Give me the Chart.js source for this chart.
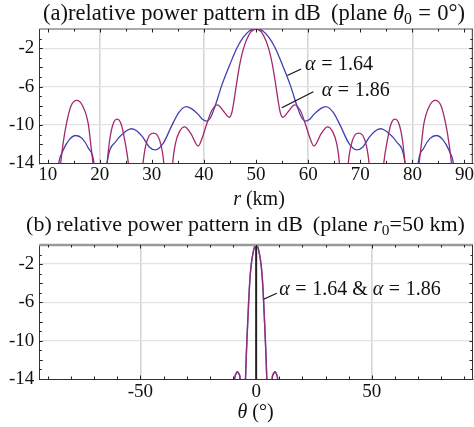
<!DOCTYPE html>
<html><head><meta charset="utf-8">
<script src="https://cdn.jsdelivr.net/npm/chart.js@4.4.0/dist/chart.umd.min.js"></script>
<style>
html,body{margin:0;padding:0;background:#fff;width:474px;height:427px;overflow:hidden}
#wa{position:absolute;left:0;top:0;width:474px;height:213px}
#wb{position:absolute;left:0;top:213px;width:474px;height:214px}
</style></head><body>
<div id="wa"><canvas id="ca"></canvas></div>
<div id="wb"><canvas id="cb"></canvas></div>
<script>
// ---------- data ----------
// (a) pattern vs range r (km), alpha = 1.64
const rAlpha164 = [10.2,12.1,13.0,14.2,15.4,16.6,17.8,18.9,20.1,21.4,23.2,24.5,25.3,26.1,27.2,28.3,29.5,30.7,32.2,33.8,35.2,36.6,37.6,38.9,39.7,40.5,41.3,42.1,43.4,44.9,46.3,47.5,48.7,50.0,51.3,52.5,53.7,55.1,56.6,57.9,58.7,59.5,60.3,61.1,62.4,63.4,64.8,66.2,67.8,69.3,70.5,71.7,72.8,73.9,74.7,75.5,76.8,78.6,79.9,81.1,82.2,83.4,84.6,85.8,87.0,87.9,89.8];
const dbAlpha164 = [-22,-14,-12.6,-11.5,-11.1,-11.4,-12.4,-14,-22,-14,-11.65,-10.9,-10.55,-10.4,-10.65,-11.3,-12.3,-12.6,-11.9,-10.1,-8.7,-8.1,-8.3,-8.9,-9.4,-9.6,-9.2,-8.1,-5.9,-3.8,-2.0,-0.9,-0.2,0,-0.2,-0.9,-2.0,-3.8,-5.9,-8.1,-9.2,-9.6,-9.4,-8.9,-8.3,-8.1,-8.7,-10.1,-11.9,-12.6,-12.3,-11.3,-10.65,-10.4,-10.55,-10.9,-11.65,-14,-22,-14,-12.4,-11.4,-11.1,-11.5,-12.6,-14,-22];
// (a) pattern vs range r (km), alpha = 1.86
const rAlpha186 = [11.2,12.5,12.95,13.6,14.5,15.6,16.7,17.8,18.27,18.7,19.9,21.4,21.9,22.5,23.3,24.1,24.8,25.5,26.9,28.3,28.8,29.5,30.3,31.1,31.8,32.3,33.15,34.0,34.5,35.3,36.3,37.5,38.9,39.7,40.6,41.5,42.6,43.8,44.9,45.4,45.9,46.4,46.9,47.5,48.2,49.0,50.0,51.0,51.8,52.5,53.1,53.6,54.1,54.6,55.1,56.2,57.4,58.5,59.4,60.3,61.1,62.5,63.7,64.7,65.5,66.0,66.85,67.7,68.2,68.9,69.7,70.5,71.2,71.7,73.1,74.5,75.2,75.9,76.7,77.5,78.1,78.6,80.1,81.3,81.73,82.2,83.3,84.4,85.5,86.4,87.05,87.5,88.8];
const dbAlpha186 = [-22,-14,-12.0,-9.9,-8.0,-7.44,-8.0,-9.9,-12.0,-14,-22,-14,-11.6,-10.0,-9.4,-9.9,-11.6,-14,-22,-14,-12.2,-11.1,-10.85,-11.1,-12.2,-14,-22,-14,-12.0,-10.7,-10.2,-10.9,-12.2,-11.3,-9.8,-8.5,-7.9,-8.6,-9.2,-8.6,-7.0,-5.2,-3.6,-2.2,-1.1,-0.3,0,-0.3,-1.1,-2.2,-3.6,-5.2,-7.0,-8.6,-9.2,-8.6,-7.9,-8.5,-9.8,-11.3,-12.2,-10.9,-10.2,-10.7,-12.0,-14,-22,-14,-12.2,-11.1,-10.85,-11.1,-12.2,-14,-22,-14,-11.6,-9.9,-9.4,-10.0,-11.6,-14,-22,-14,-12.0,-9.9,-8.0,-7.44,-8.0,-9.9,-12.0,-14,-22];
// (b) pattern vs angle theta (deg), both alphas coincide
const thetaDeg   = [-11.5,-9.3,-8.7,-8.1,-7.5,-6.9,-5.6,-4.6,-4.2,-3.8,-3.25,-2.7,-2.1,-1.4,-0.7,0,0.7,1.4,2.1,2.7,3.25,3.8,4.2,4.6,5.6,6.9,7.5,8.1,8.7,9.3,11.5];
const dbTheta164 = [-24,-14,-13.45,-13.25,-13.45,-14,-24,-14,-11.2,-8.9,-6.0,-3.6,-2.0,-0.9,-0.22,0,-0.22,-0.9,-2.0,-3.6,-6.0,-8.9,-11.2,-14,-24,-14,-13.45,-13.25,-13.45,-14,-24];
const dbTheta186 = [-24,-14,-13.45,-13.25,-13.45,-14,-24,-14,-11.2,-8.9,-6.0,-3.6,-2.0,-0.9,-0.22,0,-0.22,-0.9,-2.0,-3.6,-6.0,-8.9,-11.2,-14,-24,-14,-13.45,-13.25,-13.45,-14,-24];
const refLineTheta = [0, 0];
const refLineDb = [-14, 0];
// ticks
const rTicks = [10,20,30,40,50,60,70,80,90];
const rGridAt = [20,40,60,80];
const thetaTicks = [-50,0,50];
const thetaGridAt = [-50,50];
const dbTicks = [-14,-12,-10,-8,-6,-4,-2,0];
const dbLabelled = [-14,-10,-6,-2];

// ---------- helpers ----------
const FAM = '"Liberation Serif","Times New Roman",serif';
const pts = (xs, ys) => xs.map((x, i) => ({x, y: ys[i]}));
function segFont(s, size){ return (s.it?'italic ':'') + (s.sub ? size*0.7 : size).toFixed(2) + 'px ' + FAM; }
function richWidth(ctx, segs, size){ let w=0; for(const s of segs){ if(s.gap!==undefined){w+=s.gap*size;continue;} ctx.font=segFont(s,size); w+=ctx.measureText(s.t).width; } return w; }
function drawRich(ctx, segs, x, y, size, align){
  const w = richWidth(ctx, segs, size);
  let cx = align==='center' ? x-w/2 : x;
  ctx.save(); ctx.fillStyle='#111'; ctx.textAlign='left'; ctx.textBaseline='middle';
  for(const s of segs){
    if(s.gap!==undefined){ cx += s.gap*size; continue; }
    ctx.font = segFont(s,size);
    ctx.fillText(s.t, cx, y + (s.sub ? size*0.27 : 0));
    cx += ctx.measureText(s.t).width;
  }
  ctx.restore();
}
function fitSize(ctx, segs, width){ return 20*width/richWidth(ctx, segs, 20); }

const BLUE = '#4040b2';
const RED = '#a3296c';
const tickFont = {family: FAM, size: 19};

function makeOptions(cfg){
  return {
    responsive: true, maintainAspectRatio: false, animation: false, devicePixelRatio: 1,
    layout: {padding: {top: cfg.padTop, right: 1, left: 0, bottom: 0}},
    plugins: {legend: {display: false}, title: {display: false}, tooltip: {enabled: false}},
    elements: {point: {radius: 0}, line: {cubicInterpolationMode: 'monotone', borderJoinStyle: 'round'}},
    scales: {
      x: {
        type: 'linear', min: cfg.xmin, max: cfg.xmax,
        afterBuildTicks: s => { s.ticks = cfg.xTicks.map(v => ({value: v})); },
        afterFit: s => { s.height = cfg.xAxisH; },
        ticks: {font: tickFont, color: '#111', padding: cfg.xPad, maxRotation: 0, autoSkip: false,
                callback: v => String(v)},
        grid: {drawTicks: false, lineWidth: 1.6,
               color: c => (c.tick && cfg.xGrid.includes(c.tick.value)) ? '#d6d6d6' : 'rgba(0,0,0,0)'},
        border: {display: true, color: '#333', width: 1}
      },
      y: {
        type: 'linear', min: -14, max: 0,
        afterBuildTicks: s => { s.ticks = dbTicks.map(v => ({value: v})); },
        afterFit: s => { s.width = 39.3; },
        ticks: {font: tickFont, color: '#111', padding: 5,
                callback: v => dbLabelled.includes(v) ? String(v) : ''},
        grid: {drawTicks: false, lineWidth: 1.3,
               color: c => (c.tick && c.tick.value > -14 && c.tick.value < 0) ? '#e2e2e2' : 'rgba(0,0,0,0)'},
        border: {display: true, color: '#333', width: 1}
      }
    }
  };
}

function framePlugin(cfg){
  return {
    id: 'frame' + cfg.id,
    afterDraw(chart){
      const ctx = chart.ctx, a = chart.chartArea, xs = chart.scales.x, ys = chart.scales.y;
      ctx.save();
      ctx.strokeStyle = cfg.topColor; ctx.lineWidth = cfg.topWidth;
      ctx.beginPath(); ctx.moveTo(a.left, a.top); ctx.lineTo(a.right, a.top); ctx.stroke();
      ctx.strokeStyle = '#333'; ctx.lineWidth = 1;
      ctx.beginPath(); ctx.moveTo(a.right-0.5, a.top); ctx.lineTo(a.right-0.5, a.bottom); ctx.stroke();
      ctx.strokeStyle = '#222'; ctx.lineWidth = 1;
      ctx.beginPath();
      for (let v = cfg.minorFrom; v <= cfg.minorTo + 1e-9; v += cfg.minorStep){
        const px = Math.round(xs.getPixelForValue(v)) + 0.5;
        const L = cfg.xTicks.includes(v) ? 3.5 : 2.5;
        ctx.moveTo(px, a.bottom); ctx.lineTo(px, a.bottom - L);
        ctx.moveTo(px, a.top); ctx.lineTo(px, a.top + L);
      }
      for (let v = -13; v <= -1; v += 1){
        const py = Math.round(ys.getPixelForValue(v)) + 0.5;
        const L = (v % 2 === 0) ? 3.5 : 2.5;
        ctx.moveTo(a.left, py); ctx.lineTo(a.left + L, py);
        ctx.moveTo(a.right, py); ctx.lineTo(a.right - L, py);
      }
      ctx.stroke();
      ctx.strokeStyle = '#111'; ctx.lineWidth = 1.2;
      for (const an of cfg.annos){
        ctx.beginPath();
        ctx.moveTo(xs.getPixelForValue(an.from[0]), ys.getPixelForValue(an.from[1]));
        ctx.lineTo(xs.getPixelForValue(an.to[0]), ys.getPixelForValue(an.to[1]));
        ctx.stroke();
        drawRich(ctx, an.segs, xs.getPixelForValue(an.at[0]), ys.getPixelForValue(an.at[1]), 20, 'left');
      }
      const ts = fitSize(ctx, cfg.title, cfg.titleW);
      drawRich(ctx, cfg.title, cfg.titleX, cfg.titleY, ts, 'center');
      drawRich(ctx, cfg.axisTitle, cfg.axisTitleX, cfg.axisTitleY, 20, 'center');
      ctx.restore();
    }
  };
}

const eqSegs = v => [{t:'α',it:true},{gap:0.28},{t:'='},{gap:0.28},{t:v}];

// ---------- chart (a) ----------
const cfgA = {
  id: 'A', padTop: 29, xmin: 8.4, xmax: 91.6, xTicks: rTicks, xGrid: rGridAt, xAxisH: 49.7, xPad: 0,
  topColor: '#555', topWidth: 1, minorFrom: 10, minorTo: 90, minorStep: 5,
  title: [{t:'(a)'},{t:'relative power pattern in dB'},{gap:0.45},{t:'(plane '},{t:'θ',it:true},{t:'0',sub:true},{gap:0.28},{t:'='},{gap:0.28},{t:'0°)'}],
  titleX: 254, titleY: 14, titleW: 422,
  axisTitle: [{t:'r',it:true},{t:' (km)'}], axisTitleX: 259, axisTitleY: 200,
  annos: [
    {from:[56.0,-4.85], to:[58.65,-4.17], at:[59.4,-3.72], segs: eqSegs('1.64')},
    {from:[54.94,-8.2], to:[61.0,-6.55], at:[62.6,-6.48], segs: eqSegs('1.86')}
  ]
};
new Chart(document.getElementById('ca'), {
  type: 'line',
  data: {datasets: [
    {label: 'α = 1.64', data: pts(rAlpha164, dbAlpha164), borderColor: BLUE, borderWidth: 1.3, fill: false, order: 2},
    {label: 'α = 1.86', data: pts(rAlpha186, dbAlpha186), borderColor: RED, borderWidth: 1.3, fill: false, order: 1}
  ]},
  options: makeOptions(cfgA),
  plugins: [framePlugin(cfgA)]
});

// ---------- chart (b) ----------
const cfgB = {
  id: 'B', padTop: 32, xmin: -93.7, xmax: 93.7, xTicks: thetaTicks, xGrid: thetaGridAt, xAxisH: 48, xPad: 1.3,
  topColor: '#9a9a9a', topWidth: 2.5, minorFrom: -90, minorTo: 90, minorStep: 10,
  title: [{t:'(b)'},{gap:0.2},{t:'relative power pattern in dB'},{gap:0.45},{t:'(plane '},{t:'r',it:true},{t:'0',sub:true},{t:'=50 km)'}],
  titleX: 245.5, titleY: 12, titleW: 439,
  axisTitle: [{t:'θ',it:true},{t:' (°)'}], axisTitleX: 255.5, axisTitleY: 199.5,
  annos: [
    {from:[3.16,-5.66], to:[8.95,-5.04], at:[9.94,-4.69],
     segs: [{t:'α',it:true},{gap:0.28},{t:'='},{gap:0.28},{t:'1.64'},{gap:0.25},{t:'&'},{gap:0.25},{t:'α',it:true},{gap:0.28},{t:'='},{gap:0.28},{t:'1.86'}]}
  ]
};
new Chart(document.getElementById('cb'), {
  type: 'line',
  data: {datasets: [
    {label: 'θ = 0', data: pts(refLineTheta, refLineDb), borderColor: '#222', borderWidth: 2, fill: false, cubicInterpolationMode: 'default', tension: 0, order: 0},
    {label: 'α = 1.64', data: pts(thetaDeg, dbTheta164), borderColor: BLUE, borderWidth: 1.4, fill: false, order: 2},
    {label: 'α = 1.86', data: pts(thetaDeg, dbTheta186), borderColor: 'rgba(163,41,108,0.78)', borderWidth: 1.4, fill: false, order: 1}
  ]},
  options: makeOptions(cfgB),
  plugins: [framePlugin(cfgB)]
});
</script>
</body></html>
